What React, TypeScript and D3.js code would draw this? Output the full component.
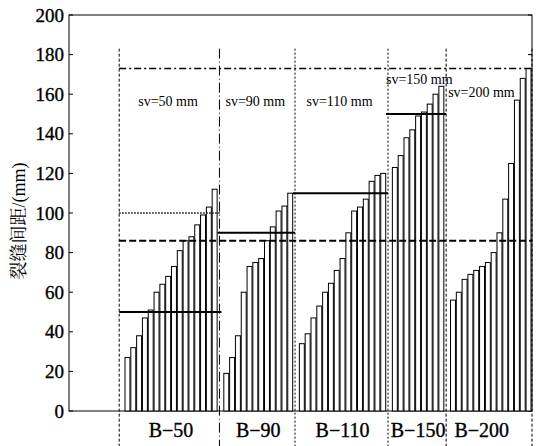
import React from 'react';
import * as d3 from 'd3';

const groupNames = ['B−50', 'B−90', 'B−110', 'B−150', 'B−200'];
const svNames = ['sv=50 mm', 'sv=90 mm', 'sv=110 mm', 'sv=150 mm', 'sv=200 mm'];
const svValues = [50, 90, 110, 150, null];

const b50 = [27, 32, 38, 47, 51, 60, 64, 68, 73, 81, 86, 88, 94, 99, 103, 112];
const b90 = [19, 27, 38, 60, 73, 75, 77, 86, 93, 101, 103.5, 110];
const b110 = [34, 39, 47, 53, 60, 64.5, 71, 77, 90, 101, 103, 107, 116, 119, 120];
const b150 = [123, 129, 138, 142, 149, 151, 155, 160, 164];
const b200 = [56, 60, 66.5, 69, 71, 73, 75, 80, 90, 107, 125, 157, 168, 173];

const yTicks = [0, 20, 40, 60, 80, 100, 120, 140, 160, 180, 200];
const meanLine = 86;
const maxLine = 173;
const b50Dotted = 100;

const W = 542;
const H = 446;
const left = 69;
const right = 532;
const top = 15;
const bottom = 411;
const serif = '"Liberation Serif", "Times New Roman", serif';
const cjk = '"Liberation Serif", "Noto Serif CJK SC", "Noto Sans CJK SC", serif';

export default function App() {
  const series = [b50, b90, b110, b150, b200];

  // one slot per bar, plus one empty slot between groups
  const slots: { g: number; v: number | null; id: string }[] = [];
  series.forEach((vals, g) => {
    if (g > 0) slots.push({ g, v: null, id: `gap${g}` });
    vals.forEach((v, i) => slots.push({ g, v, id: `${g}-${i}` }));
  });

  const x = d3.scaleBand<string>()
    .domain(slots.map(s => s.id))
    .range([125, 531])
    .paddingInner(0.15)
    .paddingOuter(0);
  const step = x.step();

  const y = d3.scaleLinear().domain([0, 200]).range([bottom, top]);

  const firstX = series.map((_, g) => x(`${g}-0`) as number);
  const lastX = series.map((vals, g) => (x(`${g}-${vals.length - 1}`) as number) + x.bandwidth());
  const seps = firstX.map((fx, g) => fx - step * (g === 0 ? 1 : 0.75));
  seps.push(right);

  const lineTop = y(183);
  const heavy = { stroke: '#000', strokeWidth: 0.35, fill: '#000' };

  return (
    <svg width={W} height={H} style={{ position: 'absolute', left: 0, top: 0, background: '#fff' }}>
      {/* frame */}
      <rect x={left} y={top} width={right - left} height={bottom - top} fill="none" stroke="#000" strokeWidth={1} />

      {/* y ticks */}
      {yTicks.map(t => (
        <g key={t}>
          <line x1={left} x2={left + 4} y1={y(t)} y2={y(t)} stroke="#000" />
          <line x1={right - 4} x2={right} y1={y(t)} y2={y(t)} stroke="#000" />
          <text x={left - 5} y={y(t)} dy="0.35em" textAnchor="end" fontFamily={serif} fontSize={19} {...heavy}>{t}</text>
        </g>
      ))}

      <text transform={`translate(25, ${(top + bottom) / 2 + 8}) rotate(-90)`} textAnchor="middle"
        fontFamily={cjk} fontSize={18} fill="#000">裂缝间距/(mm)</text>

      {/* bars */}
      {slots.filter(s => s.v !== null).map(s => (
        <rect key={s.id} x={x(s.id)} y={y(s.v as number)} width={x.bandwidth()}
          height={y(0) - y(s.v as number)} fill="#fff" stroke="#000" strokeWidth={1} />
      ))}

      {/* vertical group separators */}
      {seps.map((sx, i) => (
        <line key={i} x1={sx} x2={sx} y1={lineTop} y2={H} stroke="#000" strokeWidth={1}
          strokeDasharray={i === 1 ? '10,3,1,3' : i === 2 || i === 3 ? '2,2' : '3,2'} />
      ))}

      {/* reference lines */}
      <line x1={seps[0]} x2={right} y1={y(maxLine)} y2={y(maxLine)} stroke="#000" strokeWidth={1.5} strokeDasharray="7,3,2,3" />
      <line x1={seps[0]} x2={right} y1={y(meanLine)} y2={y(meanLine)} stroke="#000" strokeWidth={2} strokeDasharray="7,3" />
      <line x1={seps[0]} x2={seps[1] + 1} y1={y(b50Dotted)} y2={y(b50Dotted)} stroke="#000" strokeWidth={1.5} strokeDasharray="1.5,1.5" />
      {svValues.map((v, g) => v === null ? null : (
        <line key={g} x1={seps[g] - (g > 0 ? 2 : 0)} x2={seps[g + 1] + (g === 0 ? 2 : 0)} y1={y(v)} y2={y(v)} stroke="#000" strokeWidth={2} />
      ))}

      {/* sv labels */}
      {svNames.map((s, g) => {
        const inside = g < 3;
        const cx = (firstX[g] + lastX[g]) / 2 - 3;
        return (
          <text key={s} x={inside ? cx : seps[g] + (g === 3 ? -2 : 2)} y={g < 3 ? y(154) : g === 3 ? y(165) : y(158.5)}
            textAnchor={inside ? 'middle' : 'start'} fontFamily={serif} fontSize={14} fill="#000">{s}</text>
        );
      })}

      {/* group labels */}
      {groupNames.map((s, g) => (
        <text key={s} x={(firstX[g] + lastX[g]) / 2 - (g === 4 ? 9 : 0)} y={437} textAnchor="middle"
          fontFamily={serif} fontSize={20} {...heavy}>{s}</text>
      ))}
    </svg>
  );
}
